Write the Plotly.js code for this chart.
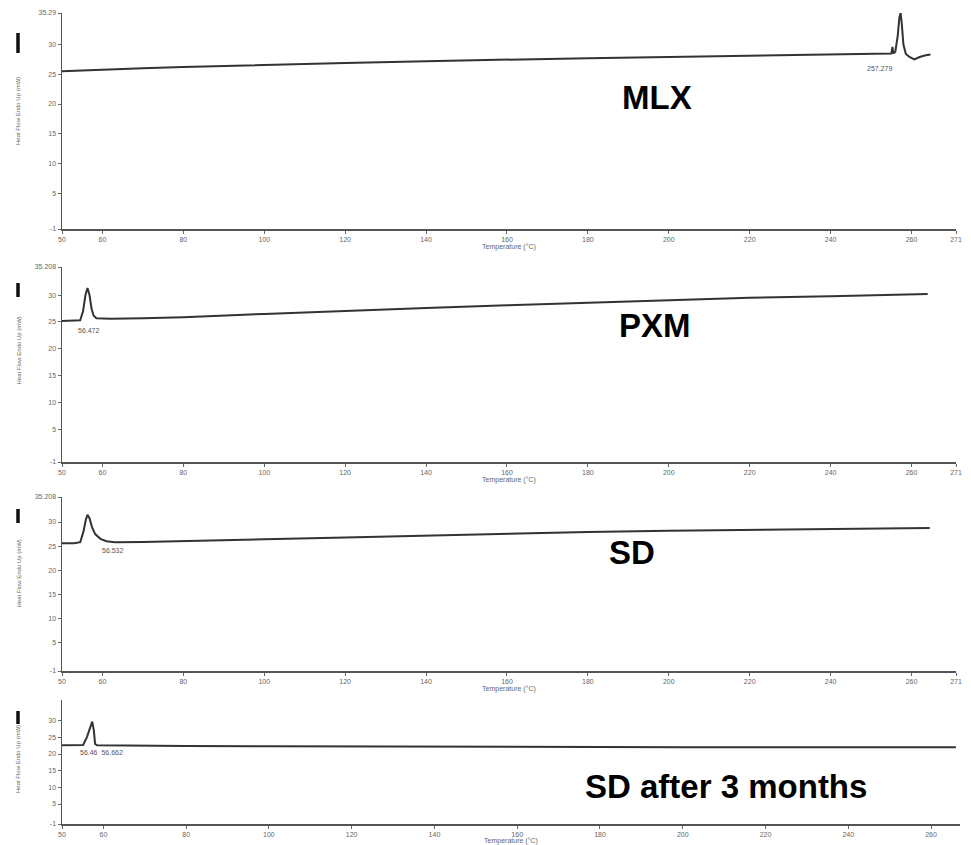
<!DOCTYPE html>
<html>
<head>
<meta charset="utf-8">
<script src="https://cdn.plot.ly/plotly-3.0.1.min.js"></script>
<style>html,body{margin:0;padding:0;background:#fff}#chart{width:971px;height:845px}</style>
</head>
<body>
<div id="chart"></div>
<script>
// ---- Data ----
const mlxTemp = [50, 60, 70, 80, 90, 100, 120, 140, 160, 180, 200, 220, 240, 250, 255.0, 255.3, 255.5, 256.0, 256.6, 257.0, 257.3, 257.6, 258.0, 258.6, 259.5, 260.7, 262.0, 263.5, 264.7];
const mlxHeat = [25.5, 25.8, 26.0, 26.2, 26.4, 26.6, 26.9, 27.2, 27.5, 27.7, 27.9, 28.1, 28.3, 28.4, 28.5, 29.6, 28.5, 28.8, 31.5, 34.5, 35.29, 33.5, 30.0, 28.4, 27.9, 27.5, 27.9, 28.2, 28.3];

const pxmTemp = [50, 53, 54.5, 55.2, 55.8, 56.3, 56.8, 57.3, 57.8, 58.5, 60, 62, 70, 80, 100, 120, 140, 160, 180, 200, 220, 240, 255, 264];
const pxmHeat = [25.2, 25.2, 25.3, 27.0, 30.0, 31.3, 30.0, 27.5, 26.2, 25.7, 25.6, 25.6, 25.7, 25.9, 26.5, 27.1, 27.6, 28.1, 28.6, 29.1, 29.5, 29.8, 30.0, 30.2];

const sdTemp = [50, 53, 54.5, 55.3, 55.9, 56.3, 56.8, 57.4, 58.2, 59.5, 61, 63, 70, 80, 100, 120, 140, 160, 180, 200, 220, 240, 255, 264.5];
const sdHeat = [25.6, 25.6, 25.8, 28.0, 30.5, 31.5, 30.8, 29.0, 27.5, 26.5, 26.0, 25.8, 25.85, 26.0, 26.4, 26.8, 27.2, 27.6, 27.9, 28.2, 28.4, 28.6, 28.7, 28.75];

const sd3Temp = [50, 54, 55.1, 56.0, 56.7, 57.3, 57.7, 58.0, 58.5, 62, 80, 100, 120, 140, 160, 180, 200, 220, 240, 260, 266];
const sd3Heat = [22.6, 22.6, 22.7, 25.0, 27.5, 29.7, 27.0, 23.0, 22.6, 22.6, 22.4, 22.3, 22.3, 22.2, 22.2, 22.1, 22.0, 22.0, 22.1, 22.1, 22.0];

const sampleNames = ["MLX", "PXM", "SD", "SD after 3 months"];
const peakLabels = ["257.279", "56.472", "56.532", "56.46  56.662"];

const xTickVals = [50, 60, 80, 100, 120, 140, 160, 180, 200, 220, 240, 260, 271];
const xTickVals4 = [50, 60, 80, 100, 120, 140, 160, 180, 200, 220, 240, 260];
const yTickVals1 = [-1, 5, 10, 15, 20, 25, 30, 35.29];
const yTickText1 = ["-1", "5", "10", "15", "20", "25", "30", "35.29"];
const yTickVals2 = [-1, 5, 10, 15, 20, 25, 30, 35.208];
const yTickText2 = ["-1", "5", "10", "15", "20", "25", "30", "35.208"];
const yTickVals4 = [-1, 5, 10, 15, 20, 25, 30];
const yTickText4 = ["-1", "5", "10", "15", "20", "25", "30"];

const xTitle = "Temperature (°C)";
const yTitle = "Heat Flow Endo Up (mW)";

// ---- Layout helpers ----
const W = 971, H = 845;
const fx = p => p / W;
const fy = p => 1 - p / H;
const FONT = "Liberation Sans, Arial, sans-serif";

const panels = [
  {t: mlxTemp, h: mlxHeat, px: [62, 956], py: [13, 229], xr: [50, 271], yr: [-1, 35.29], xt: xTickVals, yv: yTickVals1, yt: yTickText1,
   name: [657, 97], peak: [252, 26.0], bar: [33, 53], ytl: [57, 165]},
  {t: pxmTemp, h: pxmHeat, px: [62, 956], py: [267, 462], xr: [50, 271], yr: [-1, 35.208], xt: xTickVals, yv: yTickVals2, yt: yTickText2,
   name: [655, 326], peak: [56.6, 23.4], bar: [283, 297], ytl: [299, 402]},
  {t: sdTemp, h: sdHeat, px: [62, 956], py: [497, 671], xr: [50, 271], yr: [-1, 35.208], xt: xTickVals, yv: yTickVals2, yt: yTickText2,
   name: [632, 552], peak: [62.7, 24.0], bar: [509, 523], ytl: [525, 622]},
  {t: sd3Temp, h: sd3Heat, px: [62, 960], py: [700, 824], xr: [50, 267], yr: [-1, 36.2], xt: xTickVals4, yv: yTickVals4, yt: yTickText4,
   name: [726, 786], peak: [59.5, 20.6], bar: [711, 724], ytl: [726, 792]}
];

const traces = [];
const layout = {
  width: W, height: H,
  margin: {l: 0, r: 0, t: 0, b: 0},
  paper_bgcolor: "#fff", plot_bgcolor: "#fff",
  showlegend: false,
  font: {family: FONT, color: "#555"},
  annotations: [], shapes: []
};

panels.forEach((p, i) => {
  const n = i + 1;
  const xa = n === 1 ? "xaxis" : "xaxis" + n;
  const ya = n === 1 ? "yaxis" : "yaxis" + n;
  const xr = n === 1 ? "x" : "x" + n;
  const yr = n === 1 ? "y" : "y" + n;
  traces.push({
    x: p.t, y: p.h, xaxis: xr, yaxis: yr, type: "scatter", mode: "lines",
    line: {color: "#333", width: 2}, hoverinfo: "skip"
  });
  layout[xa] = {
    domain: [fx(p.px[0]), fx(p.px[1])], anchor: yr, range: p.xr,
    tickmode: "array", tickvals: p.xt, ticks: "outside", ticklen: 3, tickcolor: "#666",
    showline: true, linecolor: "#555", linewidth: 1.5, showgrid: false, zeroline: false,
    tickfont: {size: 7, color: "#666", family: FONT},
    title: {text: xTitle, font: {size: 7, color: "#666", family: FONT}, standoff: 1},
    automargin: false, fixedrange: true
  };
  layout[ya] = {
    domain: [fy(p.py[1]), fy(p.py[0])], anchor: xr, range: p.yr,
    tickmode: "array", tickvals: p.yv, ticktext: p.yt, ticks: "outside", ticklen: 3, tickcolor: "#666",
    showline: true, linecolor: "#555", linewidth: 1.5, showgrid: false, zeroline: false,
    tickfont: {size: 7, color: "#666", family: FONT},
    automargin: false, fixedrange: true
  };
  // Big sample name
  layout.annotations.push({
    xref: "paper", yref: "paper", x: fx(p.name[0]), y: fy(p.name[1]),
    xanchor: "center", yanchor: "middle", showarrow: false,
    text: sampleNames[i], font: {family: FONT, size: 33, color: "#000", weight: "bold"}
  });
  // Peak label
  layout.annotations.push({
    xref: xr, yref: yr, x: p.peak[0], y: p.peak[1],
    xanchor: "center", yanchor: "middle", showarrow: false,
    text: peakLabels[i], font: {family: FONT, size: 7, color: "#555"}
  });
  // Y-axis title (rotated)
  layout.annotations.push({
    xref: "paper", yref: "paper", x: fx(18), y: fy((p.ytl[0] + p.ytl[1]) / 2),
    xanchor: "center", yanchor: "middle", showarrow: false, textangle: -90,
    text: yTitle, font: {family: FONT, size: 6, color: "#666"}
  });
  // legend-like bar above y title
  layout.shapes.push({
    type: "line", xref: "paper", yref: "paper",
    x0: fx(18), x1: fx(18), y0: fy(p.bar[0]), y1: fy(p.bar[1]),
    line: {color: "#111", width: 3.5}
  });
});

Plotly.newPlot("chart", traces, layout, {staticPlot: true, displayModeBar: false});
</script>
</body>
</html>
